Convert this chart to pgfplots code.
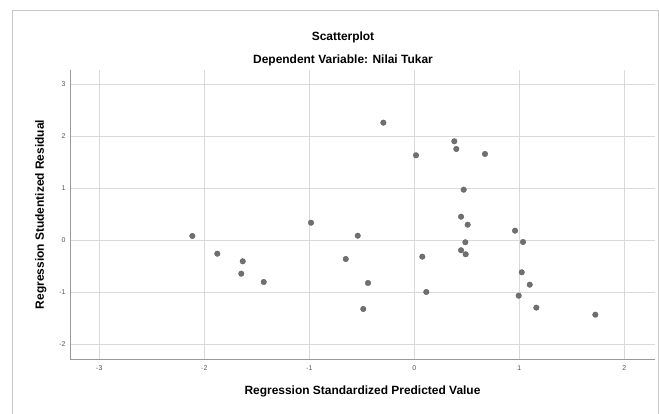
\documentclass[border=0pt]{standalone}
\usepackage{pgfplots}
\pgfplotsset{compat=1.18}
\usepackage{fontspec}
\setmainfont{Liberation Sans}
\definecolor{dotgray}{HTML}{707070}
\definecolor{gridgray}{HTML}{D9D9D9}
\definecolor{axgray}{HTML}{9A9A9A}
\definecolor{lblgray}{HTML}{555555}
\begin{document}
\begin{tikzpicture}
\path[use as bounding box] (0,0) rectangle (659bp,414bp);
% chart panel border
\draw[gray!45, line width=0.8bp] (12bp,0bp) -- (12bp,404bp) -- (658.5bp,404bp) -- (658.5bp,0bp);
\node[font=\fontsize{12}{14}\selectfont\bfseries] at (343bp,376.3bp) {Scatterplot};
\node[font=\fontsize{12}{14}\selectfont\bfseries] at (343bp,354bp) {Dependent Variable: Nilai Tukar};
\begin{axis}[
    at={(70bp,55bp)}, anchor=south west,
    scale only axis,
    width=585bp, height=289bp,
    xmin=-3.279, xmax=2.292,
    ymin=-2.283, ymax=3.275,
    axis x line=bottom, axis y line=left,
    axis line style={-, axgray, line width=0.9bp},
    xtick={-3,-2,-1,0,1,2},
    ytick={-2,-1,0,1,2,3},
    major tick length=0pt,
    grid=major,
    major grid style={gridgray, line width=0.9bp},
    /pgf/number format/assume math mode=true,
    tick label style={font=\fontsize{7}{8}\selectfont, text=lblgray},
    xticklabel shift=3bp,
    yticklabel shift=1bp,
    xlabel={Regression Standardized Predicted Value},
    ylabel={Regression Studentized Residual},
    label style={font=\fontsize{12}{14}\selectfont\bfseries},
    xlabel style={at={(axis description cs:0.5,-0.1131)}, anchor=center},
    ylabel style={at={(axis description cs:-0.0501,0.5)}, anchor=center},
]
\addplot[only marks, mark=*, mark size=2.8bp,
    mark options={fill=dotgray, draw=dotgray!80!black, line width=0.3bp}]
coordinates {
    (-2.114,0.083) (-1.876,-0.258) (-1.634,-0.404) (-1.648,-0.642)
    (-1.434,-0.802) (-0.984,0.338) (-0.653,-0.360) (-0.539,0.088)
    (-0.295,2.262) (-0.441,-0.821) (-0.486,-1.321) (0.016,1.635)
    (0.076,-0.315) (0.114,-0.994) (0.381,1.904) (0.400,1.756)
    (0.673,1.660) (0.470,0.973) (0.445,0.454) (0.508,0.300)
    (0.486,-0.038) (0.445,-0.192) (0.489,-0.269) (0.959,0.185)
    (1.035,-0.033) (1.023,-0.615) (1.099,-0.854) (0.994,-1.065)
    (1.162,-1.296) (1.724,-1.431)
};
\end{axis}
\end{tikzpicture}
\end{document}
